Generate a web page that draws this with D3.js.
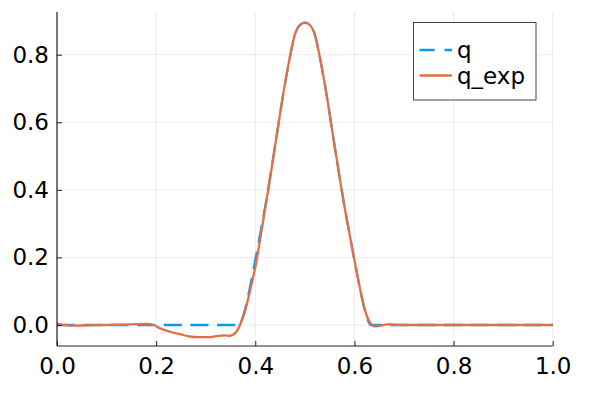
<!DOCTYPE html>
<html><head><meta charset="utf-8">
<script src="https://cdn.jsdelivr.net/npm/d3@7"></script>
<style>body{margin:0;background:#fff}svg{display:block}text{font-family:"DejaVu Sans",sans-serif;fill:#000}</style>
</head><body><svg id="c" width="600" height="400"></svg>
<script>
const xTicks = [0.0, 0.2, 0.4, 0.6, 0.8, 1.0];
const yTicks = [0.0, 0.2, 0.4, 0.6, 0.8];
const seriesNames = ["q", "q_exp"];

const qX = [0, 0.367, 0.38, 0.39, 0.40, 0.41, 0.42, 0.43, 0.44, 0.45, 0.46, 0.47, 0.48, 0.49, 0.50,
            0.51, 0.52, 0.53, 0.54, 0.55, 0.56, 0.57, 0.58, 0.59, 0.60, 0.61, 0.62, 0.633, 1.0];
const qY = [0, 0, 0.05, 0.117, 0.192, 0.271, 0.35, 0.439, 0.53, 0.625, 0.715, 0.794, 0.86, 0.888, 0.895,
            0.888, 0.86, 0.794, 0.715, 0.625, 0.53, 0.439, 0.35, 0.271, 0.192, 0.117, 0.05, 0, 0];

const eX = [0, 0.03, 0.06, 0.10, 0.15, 0.18, 0.195, 0.208, 0.228, 0.248, 0.268, 0.288, 0.309, 0.325, 0.339, 0.349,
            0.359, 0.366, 0.373, 0.379, 0.39, 0.40, 0.41, 0.42, 0.43, 0.44, 0.45, 0.46, 0.47, 0.48, 0.49, 0.50,
            0.51, 0.52, 0.53, 0.54, 0.55, 0.56, 0.57, 0.58, 0.59, 0.60, 0.61, 0.62, 0.633, 0.641, 0.652, 0.665,
            0.68, 0.70, 0.80, 0.90, 1.0];
const eY = [0.004, -0.002, -0.001, 0, 0.002, 0.003, 0, -0.01, -0.02, -0.027, -0.034, -0.036, -0.036, -0.032, -0.031, -0.032,
            -0.025, -0.01, 0.015, 0.04, 0.105, 0.17, 0.255, 0.345, 0.435, 0.53, 0.625, 0.715, 0.794, 0.86, 0.888, 0.895,
            0.888, 0.86, 0.794, 0.715, 0.625, 0.53, 0.439, 0.35, 0.271, 0.192, 0.117, 0.05, 0.004, -0.004, -0.002, 0.002,
            0.001, 0, 0, 0, 0];

const L = 57, R = 552.7, T = 12, B = 346;
const svg = d3.select("#c");
const x = d3.scaleLinear().domain([0, 1]).range([L, R]);
const y = d3.scaleLinear().domain([0, 0.8]).range([325, 54.7]);
const fs = "23px";
const axisColor = "#222";

// grid
const g = svg.append("g");
g.selectAll(".gx").data(xTicks).join("line")
  .attr("x1", d => x(d)).attr("x2", d => x(d)).attr("y1", T).attr("y2", B)
  .attr("stroke", "#000").attr("stroke-opacity", 0.08).attr("stroke-width", 1);
g.selectAll(".gy").data(yTicks).join("line")
  .attr("x1", L).attr("x2", R).attr("y1", d => y(d)).attr("y2", d => y(d))
  .attr("stroke", "#000").attr("stroke-opacity", 0.08).attr("stroke-width", 1);

const line = d3.line().x(d => x(d[0])).y(d => y(d[1])).curve(d3.curveMonotoneX);
svg.append("path").datum(qX.map((v, i) => [v, qY[i]]))
  .attr("d", line).attr("fill", "none").attr("stroke", "#009AFA")
  .attr("stroke-width", 2.3).attr("stroke-dasharray", "18,8.7");
svg.append("path").datum(eX.map((v, i) => [v, eY[i]]))
  .attr("d", line).attr("fill", "none").attr("stroke", "#E26F46")
  .attr("stroke-width", 2.3);

// axes
const xa = svg.append("g").attr("transform", `translate(0,${B})`)
  .call(d3.axisBottom(x).tickValues(xTicks).tickFormat(d3.format(".1f")).tickSizeInner(-5).tickSizeOuter(0).tickPadding(10));
const ya = svg.append("g").attr("transform", `translate(${L},0)`)
  .call(d3.axisLeft(y).tickValues(yTicks).tickFormat(d3.format(".1f")).tickSizeInner(-5).tickSizeOuter(0).tickPadding(8));
[xa, ya].forEach(a => {
  a.selectAll("text").style("font-size", fs).style("font-family", "'DejaVu Sans', sans-serif").attr("fill", "#000");
  a.selectAll("line").attr("stroke", axisColor);
  a.select(".domain").attr("stroke", axisColor).attr("stroke-width", 1.2);
});
ya.select(".domain").attr("d", `M0,${T}V${B}`);
xa.select(".domain").attr("d", `M${L},0H${R}`);
xa.selectAll("text").attr("dy", "0.71em").attr("y", 12);

// legend
const lg = svg.append("g");
lg.append("rect").attr("x", 413.5).attr("y", 22.5).attr("width", 122.5).attr("height", 77.5)
  .attr("fill", "#fff").attr("stroke", "#444").attr("stroke-width", 1);
const ly = [50, 75.5];
const lstyles = [{c: "#009AFA", dash: "15,10"}, {c: "#E26F46", dash: null}];
seriesNames.forEach((n, i) => {
  const l = lg.append("line").attr("x1", 419.5).attr("x2", 452).attr("y1", ly[i]).attr("y2", ly[i])
    .attr("stroke", lstyles[i].c).attr("stroke-width", 2.3);
  if (lstyles[i].dash) l.attr("stroke-dasharray", lstyles[i].dash);
  lg.append("text").attr("x", 457).attr("y", ly[i]).attr("dy", "0.36em").style("font-size", fs).text(n);
});
</script></body></html>
